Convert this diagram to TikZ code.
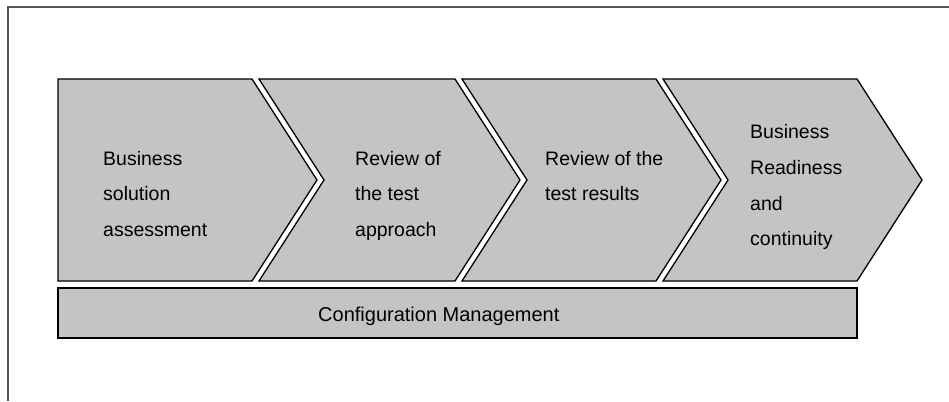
\documentclass[tikz,border=0pt]{standalone}
\usepackage{fontspec}
\setmainfont{Liberation Sans}
\definecolor{stagefill}{HTML}{C4C4C4}
\definecolor{framegray}{HTML}{555555}
\begin{document}
\begin{tikzpicture}[x=1pt,y=-1pt,
  stage/.style={draw=black,line width=1.3pt,fill=stagefill,line join=miter},
  lbl/.style={anchor=base west,inner sep=0pt,font=\fontsize{19.5}{24}\selectfont},
  barlbl/.style={anchor=base west,inner sep=0pt,font=\fontsize{20}{24}\selectfont}]
  \useasboundingbox (0,0) rectangle (949,401);
  % outer frame (top and left edges)
  \draw[framegray,line width=1.6pt] (8,401) -- (8,7) -- (949,7);

  % process chevrons: top 79, bottom 281, point at 180
  \path[stage] (58,79) -- (252,79) -- (317,180) -- (252,281) -- (58,281) -- cycle;
  \path[stage] (259,79) -- (455,79) -- (520,180) -- (455,281) -- (259,281) -- (324,180) -- cycle;
  \path[stage] (462,79) -- (656,79) -- (721,180) -- (656,281) -- (462,281) -- (527,180) -- cycle;
  \path[stage] (663,79) -- (857,79) -- (922,180) -- (857,281) -- (663,281) -- (728,180) -- cycle;

  % configuration management bar
  \path[stage] (58,288) rectangle (857,338);

  % stage labels
  \node[lbl] (a1) at (103,165) {Business};
  \node[lbl] (a2) at (103,200.5) {solution};
  \node[lbl] (a3) at (103,236) {assessment};

  \node[lbl] (b1) at (355,165) {Review of};
  \node[lbl] (b2) at (355,200.5) {the test};
  \node[lbl] (b3) at (355,236) {approach};

  \node[lbl] (c1) at (545,165) {Review of the};
  \node[lbl] (c2) at (545,200.5) {test results};

  \node[lbl] (d1) at (750,138) {Business};
  \node[lbl] (d2) at (750,174) {Readiness};
  \node[lbl] (d3) at (750,210) {and};
  \node[lbl] (d4) at (750,245) {continuity};

  \node[barlbl] (cm) at (318,321) {Configuration Management};
\end{tikzpicture}
\end{document}
